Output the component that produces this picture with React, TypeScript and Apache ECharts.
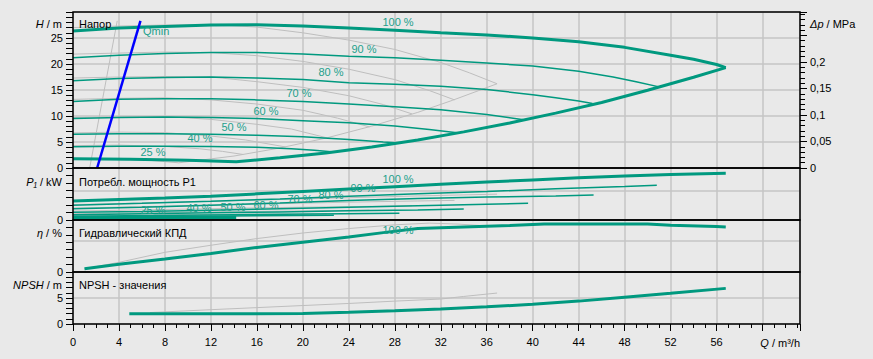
import React, { useEffect, useRef } from "react";
import * as echarts from "echarts";

// ---------- data (Q in m³/h) ----------
const qMax = 63.26; // right edge of the Q axis
const hMax = 30; // m
const dpMax = 0.2942; // MPa (= 30 m water)
const pMax = 1.75; // kW
const etaMax = 70; // %
const npshMax = 10; // m

// Head curves (teal, current pump)
const head100 = [[0, 26.35], [4, 26.9], [8, 27.2], [12, 27.5], [16, 27.55], [20, 27.3], [24, 26.9], [28, 26.5], [32, 26.0], [36, 25.6], [40, 25.0], [44, 24.3], [48, 23.2], [52, 21.7], [54, 20.9], [56, 19.9], [56.8, 19.3]];
const head90 = [[0, 21.2], [4, 21.7], [8, 22.0], [12, 22.2], [16, 22.2], [20, 21.9], [24, 21.5], [28, 21.2], [32, 20.7], [36, 20.2], [40, 19.6], [44, 18.6], [47, 17.5], [49, 16.6], [51, 15.6]];
const head80 = [[0, 16.8], [4, 17.2], [8, 17.4], [12, 17.5], [16, 17.3], [20, 17.0], [24, 16.4], [28, 16.1], [32, 15.7], [36, 15.1], [40, 14.1], [42, 13.5], [44, 12.9], [45.2, 12.4]];
const head70 = [[0, 12.8], [4, 13.2], [8, 13.3], [12, 13.3], [16, 13.1], [20, 12.8], [24, 12.3], [28, 11.8], [32, 11.2], [36, 10.3], [39.2, 9.3]];
const head60 = [[0, 9.5], [4, 9.7], [8, 9.8], [12, 9.7], [16, 9.5], [20, 9.1], [24, 8.7], [28, 8.1], [31, 7.4], [33.6, 6.75]];
const head50 = [[0, 6.5], [4, 6.6], [8, 6.6], [12, 6.5], [16, 6.3], [20, 6.0], [24, 5.5], [27, 5.0], [28.4, 4.8]];
const head40 = [[0, 4.1], [4, 4.2], [8, 4.2], [12, 4.15], [16, 4.0], [19, 3.7], [21, 3.4], [22.7, 3.1]];
const head25Bound = [[0, 1.8], [5, 1.7], [10, 1.5], [14.2, 1.2], [18, 1.95], [22, 2.9], [26, 4.05], [30, 5.4], [34, 6.95], [38, 8.65], [42, 10.55], [46, 12.6], [50, 14.95], [54, 17.45], [56.8, 19.3]];
const qMinLine = [[2.1, 0], [5.87, 28.3]];

// Head curves (grey, comparison pump)
const greyHead100 = [[0, 27.0], [4, 27.3], [8, 27.5], [12, 27.6], [16, 27.1], [20, 26.0], [24, 24.6], [28, 22.8], [32, 20.3], [34.5, 18.3], [36.9, 16.2]];
const greyHead90 = [[0, 21.9], [4, 22.1], [8, 22.3], [12, 22.2], [16, 21.6], [20, 20.5], [24, 19.0], [28, 17.0], [31, 14.9], [33.2, 13.1]];
const greyHead80 = [[0, 17.3], [4, 17.5], [8, 17.6], [12, 17.5], [16, 16.6], [20, 15.5], [24, 13.9], [27, 12.2], [29.5, 10.4]];
const greyHead70 = [[0, 13.2], [4, 13.4], [8, 13.5], [12, 13.1], [16, 12.3], [20, 11.1], [23, 9.6], [25.8, 7.9]];
const greyHead60 = [[0, 9.7], [4, 9.85], [8, 9.9], [12, 9.35], [16, 8.4], [19, 7.5], [22.1, 5.8]];
const greyHead50 = [[0, 6.75], [4, 6.9], [8, 6.8], [12, 6.15], [15, 5.4], [18.5, 4.05]];
const greyHead40 = [[0, 4.3], [4, 4.4], [8, 4.15], [11, 3.7], [13, 3.2], [14.8, 2.6]];
const greyHead25Bound = [[0, 1.7], [3, 1.72], [6, 1.6], [9.2, 1.0], [14, 2.3], [18, 3.85], [22, 5.75], [26, 8.05], [30, 10.7], [33, 13.0], [36.9, 16.2]];
const greyQMin = [[1.45, 0], [3.85, 28.3]];

// Power P1 (kW)
const power100 = [[0, 0.64], [4, 0.69], [8, 0.74], [12, 0.8], [16, 0.88], [20, 0.96], [24, 1.04], [28, 1.12], [32, 1.2], [36, 1.28], [40, 1.35], [44, 1.42], [48, 1.48], [52, 1.53], [56.8, 1.57]];
const power90 = [[0, 0.5], [6, 0.56], [12, 0.63], [18, 0.71], [24, 0.8], [30, 0.88], [36, 0.96], [42, 1.05], [48, 1.13], [50.8, 1.17]];
const power80 = [[0, 0.38], [6, 0.43], [12, 0.5], [18, 0.57], [24, 0.66], [30, 0.72], [36, 0.77], [42, 0.81], [45.3, 0.84]];
const power70 = [[0, 0.26], [6, 0.29], [12, 0.33], [18, 0.38], [24, 0.43], [30, 0.48], [36, 0.53], [39.6, 0.56]];
const power60 = [[0, 0.18], [6, 0.21], [12, 0.24], [18, 0.27], [24, 0.31], [30, 0.34], [34, 0.37]];
const power50 = [[0, 0.13], [7, 0.15], [14, 0.18], [21, 0.2], [28.4, 0.23]];
const power40 = [[0, 0.1], [8, 0.12], [16, 0.14], [22.7, 0.16]];
const power25 = [[0, 0.07], [5, 0.075], [10, 0.08], [14.2, 0.085]];
const greyPower100 = [[0, 0.52], [6, 0.57], [12, 0.63], [18, 0.69], [24, 0.75], [30, 0.81], [36.9, 0.87]];
const greyPower90 = [[0, 0.4], [6, 0.45], [12, 0.5], [18, 0.55], [24, 0.6], [30, 0.64], [33.2, 0.66]];
const greyPower80 = [[0, 0.3], [6, 0.34], [12, 0.38], [18, 0.42], [24, 0.45], [29.5, 0.48]];
const greyPower70 = [[0, 0.21], [6, 0.24], [12, 0.27], [18, 0.3], [25.8, 0.33]];
const greyPower60 = [[0, 0.15], [7, 0.17], [14, 0.19], [22.1, 0.21]];

// Hydraulic efficiency (%)
const eta100 = [[1, 4.4], [4, 10.5], [8, 17.5], [12, 25], [16, 33], [20, 40], [24, 47], [27, 53], [30, 58.5], [34, 60.5], [38, 62.5], [41, 64.6], [46, 64.6], [50, 64.6], [52, 62.8], [56, 61.2], [56.8, 60.5]];
const greyEta = [[1, 4.4], [4, 13], [8, 26.5], [12, 36], [16, 45], [20, 52.5], [24, 58.5], [28, 63.5], [31, 65.8], [33.5, 64.5], [35.5, 62.5], [36.9, 61.5]];

// NPSH (m)
const npsh = [[4.9, 1.95], [10, 1.95], [15, 1.95], [20, 2.0], [24, 2.25], [28, 2.55], [32, 2.9], [36, 3.3], [40, 3.8], [44, 4.4], [48, 5.15], [52, 5.9], [56.8, 6.85]];
const greyNpsh = [[6.7, 2.2], [12, 2.75], [16, 3.15], [20, 3.55], [24, 3.95], [28, 4.4], [32, 4.8], [34, 5.3], [36.9, 5.95]];

const speedLabels = ["100 %", "90 %", "80 %", "70 %", "60 %", "50 %", "40 %", "25 %"];

// ---------- style ----------
const FONT = "'Liberation Sans', Arial, sans-serif";
const TEAL = "#00997f";
const LABEL_TEAL = "#22a08b";
const GREY = "#bebebe";
const GRIDC = "#c4c4c4";
const BG = "#e9e9e9";
const LEFT = 73;
const RIGHT_X = 800;
const TOPS = [12, 168, 220, 272];
const HEIGHTS = [156, 52, 52, 52];

const headLabelPos = [[398, 22], [364, 49], [331, 72], [299, 93], [266, 111], [234, 127], [200, 138], [153, 152]];
const powerLabelPos = [[398, 179], [363, 188], [331, 195], [300, 199], [266, 205], [233, 207], [199, 208], [153, 210]];

export default function App() {
  const ref = useRef<HTMLDivElement>(null);
  useEffect(() => {
    if (!ref.current) return;
    const chart = echarts.init(ref.current, undefined, { renderer: "svg" });
    const ln = (data: number[][], xi: number, yi: number, color: string, width: number, z = 2) => ({
      type: "line", xAxisIndex: xi, yAxisIndex: yi, data, showSymbol: false, symbol: "none",
      lineStyle: { color, width }, silent: true, z, animation: false,
    });
    const grids = TOPS.map((t, i) => ({ left: LEFT, width: RIGHT_X - LEFT, top: t, height: HEIGHTS[i], show: false, containLabel: false }));
    const labelStyle = { color: "#000", fontSize: 11, fontFamily: FONT };
    const xAxes: any[] = TOPS.map((_, i) => ({
      type: "value", gridIndex: i, position: "bottom", min: 0, max: qMax, interval: 4,
      axisLine: { show: false },
      axisTick: { show: i === 3, length: 7, lineStyle: { color: "#000", width: 1 } },
      axisLabel: { show: i === 3, margin: 12, ...labelStyle, formatter: (v: number) => (v <= 56 && v % 4 === 0 ? String(v) : "") },
      splitLine: { show: true, lineStyle: { color: GRIDC, width: 1.5 } },
    }));
    xAxes.push({
      type: "value", gridIndex: 3, position: "bottom", min: 0, max: qMax, interval: 1,
      axisLine: { show: false }, axisTick: { show: true, length: 4, lineStyle: { color: "#000" } },
      axisLabel: { show: false }, splitLine: { show: false },
    });
    const tickAxis = (grid: number, max: number, interval: number, pos: string, len: number, fmt: any) => ({
      type: "value", gridIndex: grid, position: pos, min: 0, max, interval,
      axisLine: { show: false },
      axisTick: { show: true, length: len, lineStyle: { color: "#000" } },
      axisLabel: fmt ? { show: true, margin: 10, ...labelStyle, showMinLabel: true, formatter: fmt } : { show: false },
      splitLine: { show: false },
    });
    const gridAxis = (grid: number, max: number, interval: number) => ({
      type: "value", gridIndex: grid, position: "left", min: 0, max, interval,
      axisLine: { show: false }, axisTick: { show: false }, axisLabel: { show: false },
      splitLine: { show: true, lineStyle: { color: GRIDC, width: 1.5 } },
    });
    const yAxes: any[] = [
      // 0 H
      {
        ...tickAxis(0, hMax, 5, "left", 7, (v: number) => (v < 30 ? String(v) : "")),
        minorTick: { show: true, splitNumber: 5, length: 7, lineStyle: { color: "#000" } },
        splitLine: { show: true, lineStyle: { color: GRIDC, width: 1.5 } },
      },
      // 1 dp major
      tickAxis(0, dpMax, 0.05, "right", 7, (v: number) => (v <= 0.2001 ? (v === 0 ? "0" : String(+v.toFixed(2)).replace(".", ",")) : "")),
      // 2 dp minor
      tickAxis(0, dpMax, 0.01, "right", 5, null),
      // 3 P ticks
      tickAxis(1, pMax, 0.25, "left", 7, (v: number) => (v === 0 ? "0" : "")),
      // 4 P grid
      gridAxis(1, pMax, 1),
      // 5 eta ticks
      tickAxis(2, etaMax, 10, "left", 7, (v: number) => (v === 0 ? "0" : "")),
      // 6 eta grid
      gridAxis(2, etaMax, 42.5),
      // 7 NPSH
      {
        ...tickAxis(3, npshMax, 5, "left", 7, (v: number) => (v < 10 ? String(v) : "")),
        minorTick: { show: true, splitNumber: 5, length: 7, lineStyle: { color: "#000" } },
        splitLine: { show: true, lineStyle: { color: GRIDC, width: 1.5 } },
      },
    ];

    const series: any[] = [];
    [greyHead100, greyHead90, greyHead80, greyHead70, greyHead60, greyHead50, greyHead40, greyHead25Bound, greyQMin].forEach((d) => series.push(ln(d, 0, 0, GREY, 1, 1)));
    [head90, head80, head70, head60, head50, head40].forEach((d) => series.push(ln(d, 0, 0, TEAL, 1.5)));
    series.push(ln(head100, 0, 0, TEAL, 3, 3));
    series.push(ln(head25Bound, 0, 0, TEAL, 3, 3));
    series.push(ln(qMinLine, 0, 0, "#0000ff", 2.5, 4));
    [greyPower100, greyPower90, greyPower80, greyPower70, greyPower60].forEach((d) => series.push(ln(d, 1, 3, GREY, 1, 1)));
    [power90, power80, power70, power60, power50, power40].forEach((d) => series.push(ln(d, 1, 3, TEAL, 1.5)));
    series.push(ln(power100, 1, 3, TEAL, 3, 3));
    series.push(ln(power25, 1, 3, TEAL, 3, 3));
    series.push(ln(greyEta, 2, 5, GREY, 1, 1));
    series.push(ln(eta100, 2, 5, TEAL, 3, 3));
    series.push(ln(greyNpsh, 3, 7, GREY, 1, 1));
    series.push(ln(npsh, 3, 7, TEAL, 3, 3));

    const txt = (x: number, y: number, text: string, align: string, fill = "#000", rich?: any, size = 11) => ({
      type: "text", x, y, z: 50, silent: true,
      style: { text, fill, fontSize: size, fontFamily: FONT, align, textAlign: align, verticalAlign: "middle", textVerticalAlign: "middle", rich },
    });
    const ital = { i: { fontStyle: "italic", fontSize: 11, fontFamily: FONT, fill: "#000" } };
    const graphics: any[] = [];
    TOPS.forEach((t, i) => graphics.push({
      type: "rect", z: 40, silent: true,
      shape: { x: LEFT, y: t, width: RIGHT_X - LEFT, height: HEIGHTS[i] },
      style: { fill: "none", stroke: "#000", lineWidth: 1.5 },
    }));
    graphics.push(txt(62, 24, "{i|H} / m", "right", "#000", ital));
    graphics.push(txt(79, 24, "Напор", "left"));
    graphics.push(txt(810, 24, "{i|Δp} / MPa", "left", "#000", ital));
    graphics.push(txt(62, 182, "{i|P₁} / kW", "right", "#000", ital));
    graphics.push(txt(79, 182, "Потребл. мощность P1", "left"));
    graphics.push(txt(62, 233, "{i|η} / %", "right", "#000", ital));
    graphics.push(txt(79, 233, "Гидравлический КПД", "left"));
    graphics.push(txt(62, 285, "{i|NPSH} / m", "right", "#000", ital));
    graphics.push(txt(79, 285, "NPSH - значения", "left"));
    graphics.push(txt(800, 343, "{i|Q} / m³/h", "right", "#000", ital));
    graphics.push(txt(143, 31, "Qmin", "left", LABEL_TEAL));
    speedLabels.forEach((s, i) => {
      graphics.push(txt(headLabelPos[i][0], headLabelPos[i][1], s, "center", LABEL_TEAL));
      graphics.push(txt(powerLabelPos[i][0], powerLabelPos[i][1], s, "center", LABEL_TEAL));
    });
    graphics.push(txt(398, 230, speedLabels[0], "center", LABEL_TEAL));

    chart.setOption({
      animation: false,
      backgroundColor: BG,
      grid: grids,
      xAxis: xAxes,
      yAxis: yAxes,
      series,
      graphic: { elements: graphics },
    });
    return () => chart.dispose();
  }, []);
  return <div ref={ref} style={{ position: "fixed", left: 0, top: 0, width: 873, height: 359 }} />;
}
